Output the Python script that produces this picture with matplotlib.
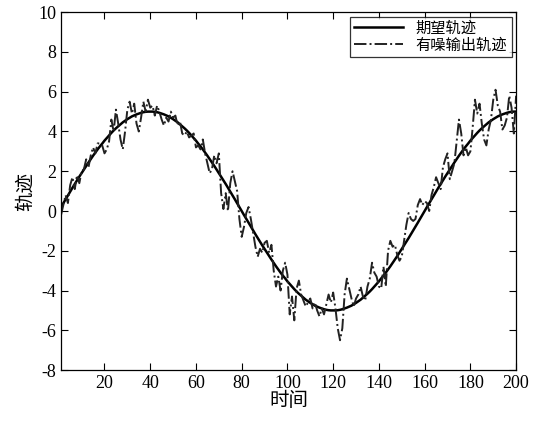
import numpy as np
import matplotlib
matplotlib.use('Agg')
import matplotlib.pyplot as plt
from matplotlib.ticker import MultipleLocator

plt.rcParams['font.family'] = ['Liberation Serif', 'Noto Sans CJK SC', 'DejaVu Sans']
plt.rcParams['axes.unicode_minus'] = False

# time index
t = np.arange(1, 201)

# desired trajectory
y_ref = [
    0.20, 0.39, 0.59, 0.78, 0.98, 1.17, 1.36, 1.55, 1.73, 1.91,
    2.09, 2.27, 2.44, 2.61, 2.78, 2.94, 3.10, 3.25, 3.39, 3.54,
    3.67, 3.80, 3.93, 4.05, 4.16, 4.26, 4.36, 4.46, 4.54, 4.62,
    4.69, 4.76, 4.81, 4.86, 4.90, 4.94, 4.97, 4.99, 5.00, 5.00,
    5.00, 4.99, 4.97, 4.94, 4.90, 4.86, 4.81, 4.76, 4.69, 4.62,
    4.54, 4.46, 4.36, 4.26, 4.16, 4.05, 3.93, 3.80, 3.67, 3.54,
    3.39, 3.25, 3.10, 2.94, 2.78, 2.61, 2.44, 2.27, 2.09, 1.91,
    1.73, 1.55, 1.36, 1.17, 0.98, 0.78, 0.59, 0.39, 0.20, 0.00,
    -0.20, -0.39, -0.59, -0.78, -0.98, -1.17, -1.36, -1.55, -1.73, -1.91,
    -2.09, -2.27, -2.44, -2.61, -2.78, -2.94, -3.10, -3.25, -3.39, -3.54,
    -3.67, -3.80, -3.93, -4.05, -4.16, -4.26, -4.36, -4.46, -4.54, -4.62,
    -4.69, -4.76, -4.81, -4.86, -4.90, -4.94, -4.97, -4.99, -5.00, -5.00,
    -5.00, -4.99, -4.97, -4.94, -4.90, -4.86, -4.81, -4.76, -4.69, -4.62,
    -4.54, -4.46, -4.36, -4.26, -4.16, -4.05, -3.93, -3.80, -3.67, -3.54,
    -3.39, -3.25, -3.10, -2.94, -2.78, -2.61, -2.44, -2.27, -2.09, -1.91,
    -1.73, -1.55, -1.36, -1.17, -0.98, -0.78, -0.59, -0.39, -0.20, 0.00,
    0.20, 0.39, 0.59, 0.78, 0.98, 1.17, 1.36, 1.55, 1.73, 1.91,
    2.09, 2.27, 2.44, 2.61, 2.78, 2.94, 3.10, 3.25, 3.39, 3.54,
    3.67, 3.80, 3.93, 4.05, 4.16, 4.26, 4.36, 4.46, 4.54, 4.62,
    4.69, 4.76, 4.81, 4.86, 4.90, 4.94, 4.97, 4.99, 5.00, 5.00,
]

# noisy output trajectory
y_out = [
    -0.2, 0.3, 0.8, 0.4, 1.3, 1.7, 1.1, 1.8, 1.4, 2.0,
    2.1, 2.6, 2.2, 2.8, 3.2, 2.9, 3.4, 3.4, 3.3, 2.9,
    3.1, 3.5, 4.6, 4.0, 5.1, 4.4, 3.6, 3.1, 4.0, 5.1,
    5.5, 4.9, 5.4, 4.4, 4.0, 4.7, 5.5, 5.0, 5.6, 5.2,
    5.3, 4.8, 5.3, 5.0, 4.6, 4.3, 4.7, 4.5, 5.0, 4.7,
    4.8, 4.3, 4.5, 3.9, 3.8, 4.0, 3.7, 3.8, 3.9, 3.2,
    3.3, 3.1, 3.6, 2.9, 2.4, 1.9, 2.1, 2.8, 2.4, 2.9,
    0.9, 0.1, 0.9, 0.0, 1.4, 2.0, 1.5, 1.0, -0.4, -1.3,
    -0.8, -0.1, 0.2, -0.4, -1.1, -1.8, -2.3, -1.9, -2.1, -1.6,
    -1.5, -2.1, -1.7, -3.0, -3.8, -3.3, -4.0, -3.0, -2.6, -3.2,
    -5.2, -4.3, -5.5, -3.9, -3.5, -4.2, -4.5, -4.8, -4.6, -4.4,
    -4.9, -4.6, -5.0, -5.3, -4.9, -5.2, -4.7, -4.2, -4.6, -4.1,
    -4.9, -5.9, -6.5, -5.9, -4.2, -3.4, -3.9, -4.4, -4.8, -4.4,
    -4.2, -3.8, -4.3, -4.5, -3.8, -3.4, -2.6, -3.1, -3.3, -3.8,
    -3.9, -2.8, -3.8, -2.0, -1.5, -1.8, -1.7, -2.2, -2.5, -2.3,
    -1.5, -0.7, -0.1, -0.4, -0.5, -0.4, 0.3, 0.6, 0.3, 0.5,
    0.4, 0.0, 0.8, 1.2, 1.7, 1.4, 1.1, 2.2, 2.6, 2.9,
    1.6, 2.0, 2.4, 3.5, 4.6, 3.9, 2.8, 3.2, 2.8, 3.0,
    4.2, 5.6, 4.9, 5.4, 4.4, 3.6, 3.3, 4.1, 4.6, 5.6,
    6.1, 5.3, 5.0, 4.1, 4.3, 4.7, 5.8, 5.2, 3.9, 5.8,
]

x_ticks = [20, 40, 60, 80, 100, 120, 140, 160, 180, 200]

fig = plt.figure(figsize=(5.45, 4.21), dpi=100)
ax = fig.add_axes([0.112, 0.121, 0.835, 0.850])

ax.plot(t, y_ref, color='black', linewidth=1.8, label='期望轨迹')
ax.plot(t, y_out, color='#222222', linewidth=1.4, linestyle='-.', label='有噪输出轨迹')

ax.set_xlim(1, 200)
ax.set_ylim(-8, 10)
ax.set_xticks(x_ticks)
ax.yaxis.set_major_locator(MultipleLocator(2))
ax.tick_params(direction='in', top=True, right=True, labelsize=13, length=5, width=0.8)
for s in ax.spines.values():
    s.set_linewidth(0.9)

ax.set_xlabel('时间', fontsize=14, labelpad=0)
ax.set_ylabel('轨迹', fontsize=14, labelpad=2)

leg = ax.legend(loc='upper right', fontsize=11, frameon=True, fancybox=False,
                edgecolor='black', borderaxespad=0.3, handlelength=3.2,
                borderpad=0.3, labelspacing=0.15)
leg.get_frame().set_linewidth(0.9)

fig.savefig('out.png', dpi=100)
